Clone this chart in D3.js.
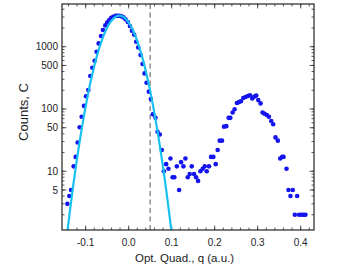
<!DOCTYPE html>
<html>
<head>
<meta charset="utf-8">
<script src="https://cdn.jsdelivr.net/npm/d3@7"></script>
<style>
  body { margin: 0; background: #fff; }
  svg { font-family: "Liberation Sans", Arial, sans-serif; }
</style>
</head>
<body>
<div id="chart"></div>
<script>
// measured counts vs optical quadrature
const qValues = [
  -0.1425, -0.1379, -0.1340, -0.1279, -0.1232, -0.1186, -0.1139, -0.1093, -0.1039, -0.0992,
  -0.0938, -0.0892, -0.0845, -0.0791, -0.0745, -0.0698, -0.0644, -0.0598, -0.0544, -0.0497,
  -0.0451, -0.0405, -0.0358, -0.0304, -0.0258, -0.0211, -0.0165, -0.0119, -0.0072, -0.0018,
  0.0029, 0.0075, 0.0129, 0.0176, 0.0222, 0.0276, 0.0323, 0.0369, 0.0416, 0.0470,
  0.0516, 0.0563, 0.0624, 0.0671, 0.0725, 0.0771, 0.0817, 0.0872, 0.0926, 0.0972,
  0.1022, 0.1062, 0.1120, 0.1173, 0.1220, 0.1274, 0.1320, 0.1374, 0.1420, 0.1467,
  0.1521, 0.1568, 0.1614, 0.1668, 0.1722, 0.1769, 0.1815, 0.1869, 0.1916, 0.1970,
  0.2024, 0.2070, 0.2117, 0.2171, 0.2217, 0.2271, 0.2325, 0.2364, 0.2418, 0.2464,
  0.2518, 0.2565, 0.2611, 0.2665, 0.2719, 0.2773, 0.2820, 0.2874, 0.2920, 0.2967,
  0.3013, 0.3068, 0.3114, 0.3160, 0.3214, 0.3261, 0.3315, 0.3361, 0.3415, 0.3469,
  0.3524, 0.3570, 0.3601, 0.3671, 0.3717, 0.3763, 0.3817, 0.3864, 0.3918, 0.3964,
  0.4018, 0.4065, 0.4111
]
const counts = [
  3, 4, 5, 12, 17, 29, 51, 75, 112, 160,
  202, 338, 460, 595, 832, 1131, 1483, 1850, 2198, 2455,
  2677, 2918, 3030, 3140, 3140, 3140, 3070, 2960, 2750, 2490,
  2150, 1810, 1560, 1200, 975, 735, 527, 373, 264, 190,
  145, 82, 72, 43, 39, 22, 10, 13, 11, 16,
  8, 8, 12, 5, 14, 12, 16, 8, 9, 12,
  9, 8, 7, 10, 11, 12, 10, 12, 17, 17,
  13, 22, 31, 31, 52, 53, 72, 72, 88, 99,
  125, 129, 133, 150, 156, 162, 166, 148, 158, 164,
  139, 123, 88, 84, 80, 75, 64, 57, 35, 31,
  16, 17, 17, 11, 5, 4, 5, 2, 4, 2,
  2, 2, 2
]
// gaussian fit: amplitude, centre, sigma
const gaussFit = [3150, -0.0215, 0.0303]
const cutQ = 0.05
const xTickLabels = [-0.1, 0.0, 0.1, 0.2, 0.3, 0.4]
const yTickLabels = [5, 10, 50, 100, 500, 1000]

const width = 343, height = 271
const margin = { top: 4, right: 29, bottom: 41, left: 62 }
const iw = width - margin.left - margin.right
const ih = height - margin.top - margin.bottom

const svg = d3.select('#chart').append('svg')
  .attr('width', width)
  .attr('height', height)

const x = d3.scaleLinear().domain([-0.155, 0.431]).range([0, iw])
const y = d3.scaleLog().domain([1.14, 4850]).range([ih, 0])

const g = svg.append('g')
  .attr('transform', `translate(${margin.left},${margin.top})`)

svg.append('defs').append('clipPath').attr('id', 'clip')
  .append('rect').attr('width', iw).attr('height', ih)

// ticks, all drawn inward from the frame
const xMinor = d3.range(-0.14, 0.431, 0.02).map(v => +v.toFixed(2))
const xMajor = d3.range(-0.1, 0.41, 0.1).map(v => +v.toFixed(1))
const yMinor = []
;[1, 10, 100, 1000].forEach(dec => {
  for (let k = 1; k <= 9; k++) {
    const v = dec * k
    if (v >= 1.14 && v <= 4850) yMinor.push(v)
  }
})
const yMajor = yMinor.filter(v => [1, 5].includes(v / Math.pow(10, Math.floor(Math.log10(v) + 1e-9))))

const ticks = g.append('g').attr('stroke', '#333').attr('stroke-width', 0.8)
function xTick (v, len) {
  ticks.append('line').attr('x1', x(v)).attr('x2', x(v)).attr('y1', ih).attr('y2', ih - len)
  ticks.append('line').attr('x1', x(v)).attr('x2', x(v)).attr('y1', 0).attr('y2', len)
}
function yTick (v, len) {
  ticks.append('line').attr('y1', y(v)).attr('y2', y(v)).attr('x1', 0).attr('x2', len)
  ticks.append('line').attr('y1', y(v)).attr('y2', y(v)).attr('x1', iw).attr('x2', iw - len)
}
xMinor.forEach(v => xTick(v, 2.5))
xMajor.forEach(v => xTick(v, 4.5))
yMinor.forEach(v => yTick(v, 2.5))
yMajor.forEach(v => yTick(v, 4.5))

// tick labels
g.append('g').selectAll('text')
  .data(xTickLabels)
  .join('text')
  .attr('x', d => x(d))
  .attr('y', ih + 16)
  .attr('text-anchor', 'middle')
  .attr('font-size', 10)
  .attr('fill', '#222')
  .text(d => d.toFixed(1))

g.append('g').selectAll('text')
  .data(yTickLabels)
  .join('text')
  .attr('x', -4)
  .attr('y', d => y(d))
  .attr('dy', '0.35em')
  .attr('text-anchor', 'end')
  .attr('font-size', 10)
  .attr('fill', '#222')
  .text(d => d)

// dashed cut line
g.append('line')
  .attr('x1', x(cutQ)).attr('x2', x(cutQ))
  .attr('y1', 0).attr('y2', ih)
  .attr('stroke', '#888')
  .attr('stroke-width', 1.4)
  .attr('stroke-dasharray', '5,3.5')

// data points
g.append('g')
  .attr('clip-path', 'url(#clip)')
  .selectAll('circle')
  .data(qValues.map((q, i) => ({ q, c: counts[i] })))
  .join('circle')
  .attr('cx', d => x(d.q))
  .attr('cy', d => y(d.c))
  .attr('r', 2.3)
  .attr('fill', '#1414ee')

// fit curve, drawn over the points
const fitQ = d3.range(-0.155, 0.431, 0.001)
const fit = q => gaussFit[0] * Math.exp(-Math.pow(q - gaussFit[1], 2) / (2 * gaussFit[2] * gaussFit[2]))
const line = d3.line()
  .x(d => x(d))
  .y(d => y(Math.max(fit(d), 0.5)))
g.append('path')
  .attr('clip-path', 'url(#clip)')
  .attr('d', line(fitQ))
  .attr('fill', 'none')
  .attr('stroke', '#18c0f2')
  .attr('stroke-width', 2.2)

// frame
g.append('rect')
  .attr('width', iw).attr('height', ih)
  .attr('fill', 'none')
  .attr('stroke', '#222')
  .attr('stroke-width', 1.2)

// axis titles
svg.append('text')
  .attr('x', margin.left + x(0.13))
  .attr('y', 262)
  .attr('text-anchor', 'middle')
  .attr('font-size', 11.5)
  .attr('fill', '#222')
  .text('Opt. Quad., q  (a.u.)')

svg.append('text')
  .attr('transform', 'translate(28,112) rotate(-90)')
  .attr('text-anchor', 'middle')
  .attr('font-size', 13)
  .attr('fill', '#222')
  .text('Counts, C')
</script>
</body>
</html>
